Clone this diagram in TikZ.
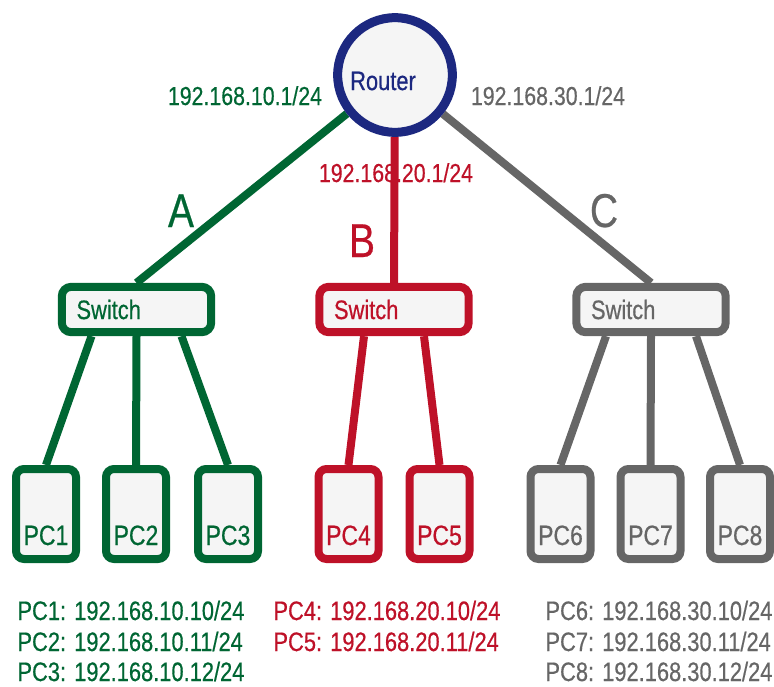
\documentclass[tikz,border=0pt]{standalone}
\usepackage{fontspec}
\setmainfont{Liberation Sans}[FakeStretch=0.82,FakeBold=0.5]
\usetikzlibrary{calc,backgrounds}

\definecolor{netgreen}{RGB}{0,102,51}
\definecolor{netred}{RGB}{190,17,40}
\definecolor{netgrey}{RGB}{102,102,102}
\definecolor{netblue}{RGB}{28,40,128}
\definecolor{boxfill}{RGB}{245,245,245}

\tikzset{every picture/.style={line width=0.75pt}}
\tikzset{
  routerbox/.style={circle, draw=netblue, text=netblue, line width=6.75pt, fill=boxfill,
    minimum size=86pt, inner sep=0pt},
  switchbox/.style={rectangle, draw, rounded corners=7pt, line width=6pt, fill=boxfill,
    minimum height=34pt, text width=90pt, inner xsep=11pt, align=left,
    font=\fontsize{20}{24}\selectfont},
  pcbox/.style={rectangle, draw, rounded corners=6pt, line width=6pt, fill=boxfill,
    minimum width=45pt, minimum height=67.5pt, inner sep=0pt},
  pclabel/.style={anchor=base, yshift=13.5pt, inner sep=0pt, font=\fontsize{21}{25}\selectfont},
  link/.style={line width=6pt},
  iplabel/.style={anchor=base, inner sep=0pt, font=\fontsize{19.5}{23}\selectfont},
  netletter/.style={anchor=base, inner sep=0pt, font=\fontsize{35.6}{40}\selectfont},
  addrline/.style={anchor=base west, inner sep=0pt, font=\fontsize{20}{24}\selectfont},
}

\begin{document}
\begin{tikzpicture}[x=0.75pt,y=0.75pt,yscale=-1,xscale=1]
\useasboundingbox (0,0) rectangle (774,686);

%Router
\node [routerbox, label={[xshift=-9pt,yshift=-4.5pt,text=netblue,font=\fontsize{20}{24}\selectfont]center:Router}] (router) at (395,75) {};

%Switches
\node [switchbox, draw=netgreen, text=netgreen] (swA) at (136.5,309.5) {Switch};
\node [switchbox, draw=netred, text=netred] (swB) at (394,309.5) {Switch};
\node [switchbox, draw=netgrey, text=netgrey] (swC) at (651,309.5) {Switch};

%PCs
\node [pcbox, draw=netgreen, label={[pclabel, text=netgreen]south:PC1}] (pc1) at (46,514) {};
\node [pcbox, draw=netgreen, label={[pclabel, text=netgreen]south:PC2}] (pc2) at (136,514) {};
\node [pcbox, draw=netgreen, label={[pclabel, text=netgreen]south:PC3}] (pc3) at (228,514) {};
\node [pcbox, draw=netred, label={[pclabel, text=netred]south:PC4}] (pc4) at (348.5,514) {};
\node [pcbox, draw=netred, label={[pclabel, text=netred]south:PC5}] (pc5) at (439.5,514) {};
\node [pcbox, draw=netgrey, label={[pclabel, text=netgrey]south:PC6}] (pc6) at (560.5,514) {};
\node [pcbox, draw=netgrey, label={[pclabel, text=netgrey]south:PC7}] (pc7) at (650.5,514) {};
\node [pcbox, draw=netgrey, label={[pclabel, text=netgrey]south:PC8}] (pc8) at (740,514) {};

\begin{scope}[on background layer]
%Straight Lines
\draw [link, netgreen] (router) -- (swA.north);
\draw [link, netred] (router) -- (swB.north);
\draw [link, netgrey] (router) -- (swC.north);
%Straight Lines
\draw [link, netgreen] ($(swA.south)+(-45,0)$) -- (pc1.north);
\draw [link, netgreen] (swA.south) -- (pc2.north);
\draw [link, netgreen] ($(swA.south)+(45,0)$) -- (pc3.north);
\draw [link, netred] ($(swB.south)+(-30,0)$) -- (pc4.north);
\draw [link, netred] ($(swB.south)+(30,0)$) -- (pc5.north);
\draw [link, netgrey] ($(swC.south)+(-45,0)$) -- (pc6.north);
\draw [link, netgrey] (swC.south) -- (pc7.north);
\draw [link, netgrey] ($(swC.south)+(45,0)$) -- (pc8.north);
\end{scope}

% Text Node
\node [iplabel, text=netgreen] (ipA) at (245,105) {192.168.10.1/24};
% Text Node
\node [iplabel, text=netred] (ipB) at (396,182) {192.168.20.1/24};
% Text Node
\node [iplabel, text=netgrey] (ipC) at (548,105) {192.168.30.1/24};
% Text Node
\node [netletter, text=netgreen] (netA) at (181,227) {A};
% Text Node
\node [netletter, text=netred] (netB) at (362,257) {B};
% Text Node
\node [netletter, text=netgrey] (netC) at (604,227) {C};

% Text Node
\node [addrline, text=netgreen] (ad1) at (17,620) {PC1: 192.168.10.10/24};
\node [addrline, text=netgreen] (ad2) at (17,651) {PC2: 192.168.10.11/24};
\node [addrline, text=netgreen] (ad3) at (17,681) {PC3: 192.168.10.12/24};
% Text Node
\node [addrline, text=netred] (ad4) at (273,620) {PC4: 192.168.20.10/24};
\node [addrline, text=netred] (ad5) at (273,651) {PC5: 192.168.20.11/24};
% Text Node
\node [addrline, text=netgrey] (ad6) at (545,620) {PC6: 192.168.30.10/24};
\node [addrline, text=netgrey] (ad7) at (545,651) {PC7: 192.168.30.11/24};
\node [addrline, text=netgrey] (ad8) at (545,681) {PC8: 192.168.30.12/24};

\end{tikzpicture}
\end{document}
